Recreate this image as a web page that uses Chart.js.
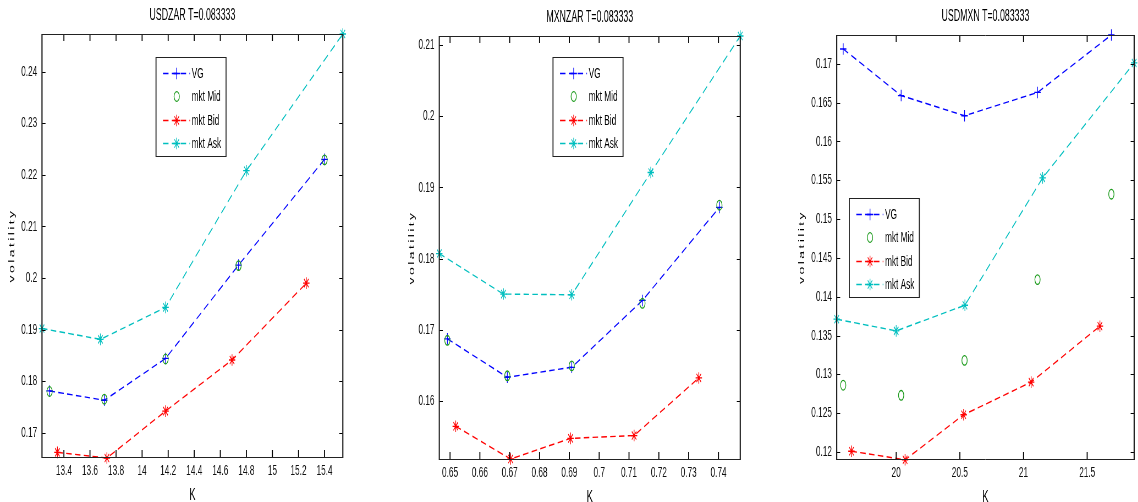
<!DOCTYPE html>
<html><head><meta charset="utf-8">
<script src="https://cdn.jsdelivr.net/npm/chart.js@4.4.1/dist/chart.umd.min.js"></script>
<style>
html,body{margin:0;padding:0;background:#fff;width:1138px;height:502px;overflow:hidden;position:relative}
canvas{position:absolute;top:0;transform-origin:0 0;}
</style></head><body>
<canvas id="c1"></canvas><canvas id="c2"></canvas><canvas id="c3"></canvas>
<script>
// ---------------- data ----------------
const seriesNames = ['VG', 'mkt Mid', 'mkt Bid', 'mkt Ask'];
const yTitle = 'volatility';
const xTitle = 'K';

// USDZAR
const zarTitle = 'USDZAR T=0.083333';
const zarK_VG  = [13.29, 13.71, 14.18, 14.74, 15.40];
const zarVG    = [0.1781, 0.1763, 0.1844, 0.2025, 0.2230];
const zarK_Mid = [13.29, 13.71, 14.18, 14.74, 15.40];
const zarMid   = [0.1780, 0.1765, 0.1843, 0.2024, 0.2229];
const zarK_Bid = [13.35, 13.73, 14.18, 14.69, 15.26];
const zarBid   = [0.1662, 0.1651, 0.1742, 0.1841, 0.1990];
const zarK_Ask = [13.232, 13.68, 14.18, 14.80, 15.54];
const zarAsk   = [0.1902, 0.1881, 0.1943, 0.2208, 0.2473];
const zarXTicks = [13.4, 13.6, 13.8, 14, 14.2, 14.4, 14.6, 14.8, 15, 15.2, 15.4];
const zarXLabels = ['13.4','13.6','13.8','14','14.2','14.4','14.6','14.8','15','15.2','15.4'];
const zarYTicks = [0.17, 0.18, 0.19, 0.2, 0.21, 0.22, 0.23, 0.24];
const zarYLabels = ['0.17','0.18','0.19','0.2','0.21','0.22','0.23','0.24'];

// MXNZAR
const mzTitle = 'MXNZAR T=0.083333';
const mzK_VG  = [0.6491, 0.6692, 0.6908, 0.7145, 0.7403];
const mzVG    = [0.1687, 0.1633, 0.1647, 0.1741, 0.1872];
const mzK_Mid = [0.6491, 0.6692, 0.6908, 0.7145, 0.7403];
const mzMid   = [0.1685, 0.1635, 0.1649, 0.1737, 0.1875];
const mzK_Bid = [0.6519, 0.6703, 0.6904, 0.7117, 0.7334];
const mzBid   = [0.1564, 0.1518, 0.1547, 0.1551, 0.1632];
const mzK_Ask = [0.6464, 0.6679, 0.6908, 0.7173, 0.7473];
const mzAsk   = [0.1807, 0.1750, 0.1749, 0.1921, 0.2113];
const mzXTicks = [0.65, 0.66, 0.67, 0.68, 0.69, 0.7, 0.71, 0.72, 0.73, 0.74];
const mzXLabels = ['0.65','0.66','0.67','0.68','0.69','0.7','0.71','0.72','0.73','0.74'];
const mzYTicks = [0.16, 0.17, 0.18, 0.19, 0.2, 0.21];
const mzYLabels = ['0.16','0.17','0.18','0.19','0.2','0.21'];

// USDMXN
const umTitle = 'USDMXN T=0.083333';
const umK_VG  = [19.584, 20.039, 20.537, 21.11, 21.69];
const umVG    = [0.1719, 0.1659, 0.1633, 0.1663, 0.1737];
const umK_Mid = [19.584, 20.039, 20.537, 21.11, 21.69];
const umMid   = [0.1286, 0.1273, 0.1318, 0.1422, 0.1532];
const umK_Bid = [19.649, 20.07, 20.53, 21.06, 21.60];
const umBid   = [0.1201, 0.1190, 0.1248, 0.1290, 0.1362];
const umK_Ask = [19.533, 20.0, 20.54, 21.15, 21.869];
const umAsk   = [0.1371, 0.1356, 0.1389, 0.1553, 0.1701];
const umXTicks = [20, 20.5, 21, 21.5];
const umXLabels = ['20','20.5','21','21.5'];
const umYTicks = [0.12, 0.125, 0.13, 0.135, 0.14, 0.145, 0.15, 0.155, 0.16, 0.165, 0.17];
const umYLabels = ['0.12','0.125','0.13','0.135','0.14','0.145','0.15','0.155','0.16','0.165','0.17'];

// ---------------- style ----------------
const SX = 0.55;              // horizontal squeeze of the whole figure
const FONT = "'Liberation Sans', Arial, Helvetica, sans-serif";
const COLORS = ['#0000ff', '#1a9a1a', '#ff0000', '#00bfbf'];
const STYLES = ['cross', 'circle', 'star', 'star'];
const LINES = [true, false, true, true];

function ds(i, xs, ys) {
  return {
    label: seriesNames[i],
    data: xs.map((x, k) => ({x: x, y: ys[k]})),
    borderColor: COLORS[i],
    backgroundColor: 'rgba(0,0,0,0)',
    pointStyle: STYLES[i],
    pointRadius: i === 1 ? 4.8 : 5.8,
    pointBorderWidth: 1.3,
    pointBorderColor: COLORS[i],
    pointBackgroundColor: 'rgba(0,0,0,0)',
    showLine: LINES[i],
    borderWidth: 1.4,
    borderDash: [10, 6],
    clip: false,
    tension: 0,
    order: 3 - i
  };
}

const matlabPlugin = {
  id: 'matlab',
  afterDraw(chart, args, o) {
    const ctx = chart.ctx, a = chart.chartArea;
    const xs = chart.scales.x, ys = chart.scales.y;
    ctx.save();
    ctx.strokeStyle = '#000';
    // x ticks (inward, top and bottom)
    ctx.lineWidth = 1 / SX;
    xs.ticks.forEach(t => {
      const px = xs.getPixelForValue(t.value);
      ctx.beginPath();
      ctx.moveTo(px, a.bottom); ctx.lineTo(px, a.bottom - 7);
      ctx.moveTo(px, a.top); ctx.lineTo(px, a.top + 7);
      ctx.stroke();
    });
    // y ticks (inward, left and right)
    ctx.lineWidth = 1;
    ys.ticks.forEach(t => {
      const py = Math.round(ys.getPixelForValue(t.value)) + 0.5;
      ctx.beginPath();
      ctx.moveTo(a.left, py); ctx.lineTo(a.left + 3.5 / SX, py);
      ctx.moveTo(a.right, py); ctx.lineTo(a.right - 3.5 / SX, py);
      ctx.stroke();
    });
    // frame
    ctx.strokeStyle = '#222';
    ctx.lineWidth = 1;
    ctx.beginPath();
    ctx.moveTo(a.left, a.top + 0.5); ctx.lineTo(a.right, a.top + 0.5);
    ctx.moveTo(a.left, a.bottom + 0.5); ctx.lineTo(a.right, a.bottom + 0.5);
    ctx.stroke();
    ctx.lineWidth = 1.2 / SX;
    ctx.beginPath();
    ctx.moveTo(a.left, a.top); ctx.lineTo(a.left, a.bottom + 1);
    ctx.moveTo(a.right, a.top); ctx.lineTo(a.right, a.bottom + 1);
    ctx.stroke();

    // title
    ctx.fillStyle = '#000';
    ctx.textAlign = 'center';
    ctx.textBaseline = 'middle';
    ctx.font = '16px ' + FONT;
    ctx.fillText(o.title, (a.left + a.right) / 2, a.top - 18);
    // x title
    ctx.font = '17px ' + FONT;
    ctx.fillText(xTitle, (a.left + a.right) / 2, a.bottom + 38);
    // y title
    ctx.save();
    ctx.translate(a.left - o.yTitleOffset, (a.top + a.bottom) / 2);
    ctx.rotate(-Math.PI / 2);
    ctx.font = '14px ' + FONT;
    ctx.letterSpacing = '2.4px';
    ctx.fillText(yTitle, 0, 0);
    ctx.restore();

    // legend
    const L = o.legend;
    ctx.font = '15px ' + FONT;
    ctx.letterSpacing = '0px';
    let maxW = 0;
    chart.data.datasets.forEach(d => { maxW = Math.max(maxW, ctx.measureText(d.label).width); });
    const bx = a.left + L.dx, by = a.top + L.dy;
    const tx = 35.7 / SX;
    const bw = tx + maxW + 5 / SX, bh = 99;
    ctx.fillStyle = '#fff';
    ctx.fillRect(bx, by, bw, bh);
    ctx.strokeStyle = '#222';
    ctx.lineWidth = 1;
    ctx.beginPath();
    ctx.moveTo(bx, by + 0.5); ctx.lineTo(bx + bw, by + 0.5);
    ctx.moveTo(bx, by + bh + 0.5); ctx.lineTo(bx + bw, by + bh + 0.5);
    ctx.stroke();
    ctx.lineWidth = 1 / SX;
    ctx.beginPath();
    ctx.moveTo(bx, by); ctx.lineTo(bx, by + bh + 1);
    ctx.moveTo(bx + bw, by); ctx.lineTo(bx + bw, by + bh + 1);
    ctx.stroke();
    chart.data.datasets.forEach((d, i) => {
      const cy = Math.round(by + 15.5 + i * 23.5) + 0.5;
      if (d.showLine) {
        ctx.save();
        ctx.strokeStyle = d.borderColor;
        ctx.lineWidth = 1.4;
        ctx.setLineDash([10, 6]);
        ctx.beginPath();
        ctx.moveTo(bx + 7 / SX, cy); ctx.lineTo(bx + 34 / SX, cy);
        ctx.stroke();
        ctx.restore();
      }
      ctx.save();
      ctx.strokeStyle = d.pointBorderColor;
      ctx.fillStyle = 'rgba(0,0,0,0)';
      ctx.lineWidth = d.pointBorderWidth;
      Chart.helpers.drawPoint(ctx, {pointStyle: d.pointStyle, radius: d.pointRadius, borderWidth: d.pointBorderWidth, rotation: 0}, bx + 20.7 / SX, cy);
      ctx.restore();
      ctx.fillStyle = '#000';
      ctx.textAlign = 'left';
      ctx.textBaseline = 'middle';
      ctx.fillText(d.label, bx + tx, cy);
    });
    ctx.restore();
  }
};

function makeChart(id, cfg) {
  const cv = document.getElementById(id);
  const W = cfg.pageWidth / SX;
  cv.width = Math.round(W);
  cv.height = 502;
  cv.style.left = cfg.pageLeft + 'px';
  cv.style.transform = 'scaleX(' + SX + ')';
  const ticksFont = {family: FONT, size: 15};
  const yW = (cfg.chartLeft - cfg.pageLeft) / SX;
  const padRight = (cfg.pageLeft + cfg.pageWidth - cfg.chartRight) / SX;
  const xH = 502 - cfg.chartBottom;
  return new Chart(cv, {
    type: 'scatter',
    data: {datasets: [ds(0, cfg.k[0], cfg.v[0]), ds(1, cfg.k[1], cfg.v[1]), ds(2, cfg.k[2], cfg.v[2]), ds(3, cfg.k[3], cfg.v[3])]},
    options: {
      responsive: false,
      animation: false,
      devicePixelRatio: 1,
      layout: {padding: {left: 0, right: padRight, top: cfg.chartTop, bottom: 0}},
      plugins: {
        legend: {display: false},
        tooltip: {enabled: false},
        title: {display: false},
        matlab: {
          title: cfg.title,
          yTitleOffset: (cfg.chartLeft - cfg.yTitleX) / SX,
          legend: {dx: (cfg.legendX - cfg.chartLeft) / SX, dy: cfg.legendY - cfg.chartTop}
        }
      },
      scales: {
        x: {
          type: 'linear', min: cfg.xMin, max: cfg.xMax,
          grid: {display: false, drawTicks: false}, border: {display: false},
          ticks: {padding: 5, font: ticksFont, color: '#111', autoSkip: false, maxRotation: 0, minRotation: 0,
                  callback: (v, i) => cfg.xLabels[i]},
          afterBuildTicks: s => { s.ticks = cfg.xTicks.map(v => ({value: v})); },
          afterFit: s => { s.height = xH; s.paddingLeft = 0; s.paddingRight = 0; s.paddingTop = 0; s.paddingBottom = 0; }
        },
        y: {
          type: 'linear', min: cfg.yMin, max: cfg.yMax,
          grid: {display: false, drawTicks: false}, border: {display: false},
          ticks: {padding: 4.8 / SX, font: ticksFont, color: '#111', autoSkip: false,
                  callback: (v, i) => cfg.yLabels[i]},
          afterBuildTicks: s => { s.ticks = cfg.yTicks.map(v => ({value: v})); },
          afterFit: s => { s.width = yW; s.paddingLeft = 0; s.paddingRight = 0; s.paddingTop = 0; s.paddingBottom = 0; }
        }
      }
    },
    plugins: [matlabPlugin]
  });
}

makeChart('c1', {
  pageLeft: 0, pageWidth: 350, chartLeft: 42, chartRight: 343, chartTop: 34, chartBottom: 457,
  title: zarTitle, yTitleX: 12, legendX: 156, legendY: 57,
  xMin: 13.232, xMax: 15.54, yMin: 0.1653, yMax: 0.2473,
  xTicks: zarXTicks, xLabels: zarXLabels, yTicks: zarYTicks, yLabels: zarYLabels,
  k: [zarK_VG, zarK_Mid, zarK_Bid, zarK_Ask], v: [zarVG, zarMid, zarBid, zarAsk]
});
makeChart('c2', {
  pageLeft: 390, pageWidth: 360, chartLeft: 439.3, chartRight: 740, chartTop: 36, chartBottom: 459,
  title: mzTitle, yTitleX: 412, legendX: 553, legendY: 57,
  xMin: 0.6464, xMax: 0.7473, yMin: 0.1518, yMax: 0.2113,
  xTicks: mzXTicks, xLabels: mzXLabels, yTicks: mzYTicks, yLabels: mzYLabels,
  k: [mzK_VG, mzK_Mid, mzK_Bid, mzK_Ask], v: [mzVG, mzMid, mzBid, mzAsk]
});
makeChart('c3', {
  pageLeft: 780, pageWidth: 358, chartLeft: 836.7, chartRight: 1136.7, chartTop: 35, chartBottom: 459,
  title: umTitle, yTitleX: 802, legendX: 849.3, legendY: 198,
  xMin: 19.533, xMax: 21.869, yMin: 0.1191, yMax: 0.1737,
  xTicks: umXTicks, xLabels: umXLabels, yTicks: umYTicks, yLabels: umYLabels,
  k: [umK_VG, umK_Mid, umK_Bid, umK_Ask], v: [umVG, umMid, umBid, umAsk]
});
</script>
</body></html>
